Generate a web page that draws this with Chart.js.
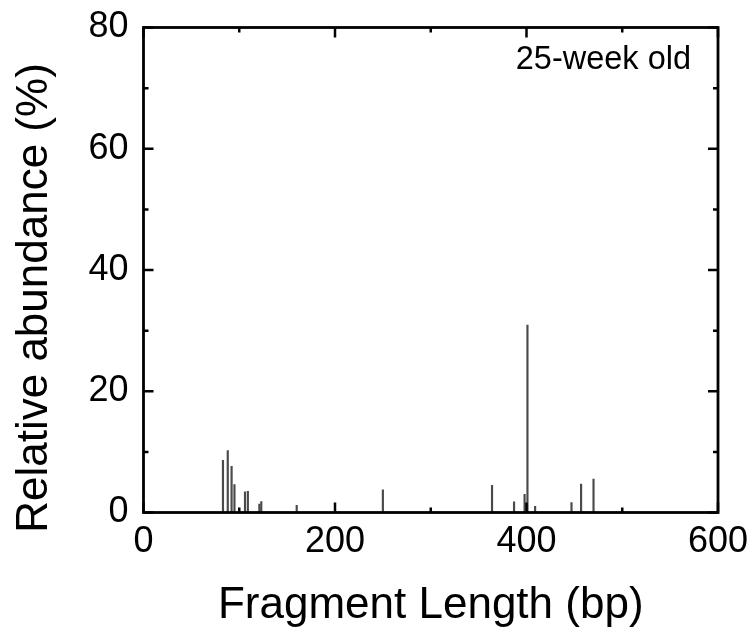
<!DOCTYPE html>
<html>
<head>
<meta charset="utf-8">
<script src="https://cdn.jsdelivr.net/npm/chart.js@4/dist/chart.umd.min.js"></script>
<style>
  html, body { margin: 0; padding: 0; background: #fff; }
  #wrap { width: 756px; height: 639px; }
</style>
</head>
<body>
<div id="wrap"><canvas id="chart"></canvas></div>
<script>
// fragment lengths (bp) and their relative abundance (%)
const fragLength = [83, 88, 92, 95, 106, 109, 121, 123, 160, 250, 364, 387, 398, 401, 409, 447, 457, 470];
const abundance  = [8.6, 10.2, 7.6, 4.6, 3.4, 3.5, 1.4, 1.8, 1.2, 3.75, 4.5, 1.75, 3.0, 30.9, 1.0, 1.65, 4.7, 5.5];

const xMajorTicks = [0, 200, 400, 600];
const xMinorTicks = [100, 300, 500];
const yMajorTicks = [0, 20, 40, 60, 80];
const yMinorTicks = [10, 30, 50, 70];

const label = '25-week old';
const yTitle = 'Relative abundance (%)';
const fontFamily = '"Liberation Sans", Arial, sans-serif';

// frame + inward ticks on all four sides, y title and the annotation
const framePlugin = {
  id: 'frame',
  afterDraw(chart) {
    const { ctx, chartArea: a, scales: { x, y } } = chart;
    ctx.save();
    ctx.strokeStyle = '#000';
    ctx.lineWidth = 2.8;
    ctx.lineCap = 'square';
    ctx.strokeRect(a.left, a.top, a.right - a.left, a.bottom - a.top);

    ctx.lineWidth = 2.5;
    ctx.lineCap = 'butt';
    const tickX = (v, len) => {
      const px = x.getPixelForValue(v);
      ctx.beginPath();
      ctx.moveTo(px, a.bottom); ctx.lineTo(px, a.bottom - len);
      ctx.moveTo(px, a.top); ctx.lineTo(px, a.top + len);
      ctx.stroke();
    };
    const tickY = (v, len) => {
      const py = y.getPixelForValue(v);
      ctx.beginPath();
      ctx.moveTo(a.left, py); ctx.lineTo(a.left + len, py);
      ctx.moveTo(a.right, py); ctx.lineTo(a.right - len, py);
      ctx.stroke();
    };
    xMajorTicks.forEach(v => tickX(v, 10));
    xMinorTicks.forEach(v => tickX(v, 5));
    yMajorTicks.forEach(v => tickY(v, 10));
    yMinorTicks.forEach(v => tickY(v, 5));

    ctx.fillStyle = '#000';
    ctx.font = '32.5px ' + fontFamily;
    ctx.textAlign = 'right';
    ctx.textBaseline = 'alphabetic';
    ctx.fillText(label, a.right - 27, a.top + 41);

    // y axis title, sits a little below the plot's middle like the original
    ctx.font = '44px ' + fontFamily;
    ctx.textAlign = 'center';
    ctx.translate(47, (a.top + a.bottom) / 2 + 28);
    ctx.rotate(-Math.PI / 2);
    ctx.fillText(yTitle, 0, 0);
    ctx.restore();
  }
};

new Chart(document.getElementById('chart'), {
  type: 'bar',
  data: {
    datasets: [{
      data: fragLength.map((v, i) => ({ x: v, y: abundance[i] })),
      backgroundColor: '#4a4a4a',
      borderWidth: 0,
      barThickness: 1.5,
      grouped: false
    }]
  },
  options: {
    responsive: true,
    maintainAspectRatio: false,
    animation: false,
    layout: { padding: { top: 27.5, right: 38, left: 0, bottom: 0 } },
    plugins: {
      legend: { display: false },
      tooltip: { enabled: false }
    },
    scales: {
      x: {
        type: 'linear',
        offset: false,
        min: 0,
        max: 600,
        afterFit: s => { s.height = 126.5; s.paddingLeft = 0; s.paddingRight = 0; },
        afterBuildTicks: s => { s.ticks = xMajorTicks.map(v => ({ value: v })); },
        grid: { display: false, drawTicks: false, offset: false },
        border: { display: false },
        ticks: {
          padding: 8,
          color: '#000',
          font: { family: fontFamily, size: 36 },
          maxRotation: 0
        },
        title: {
          display: true,
          text: 'Fragment Length (bp)',
          color: '#000',
          font: { family: fontFamily, size: 44 },
          padding: { top: 7, bottom: 7 }
        }
      },
      y: {
        min: 0,
        max: 80,
        afterFit: s => { s.width = 143.5; s.paddingTop = 0; s.paddingBottom = 0; },
        afterBuildTicks: s => { s.ticks = yMajorTicks.map(v => ({ value: v })); },
        grid: { display: false, drawTicks: false },
        border: { display: false },
        ticks: {
          padding: 15,
          color: '#000',
          font: { family: fontFamily, size: 36 }
        }
      }
    }
  },
  plugins: [framePlugin]
});
</script>
</body>
</html>
